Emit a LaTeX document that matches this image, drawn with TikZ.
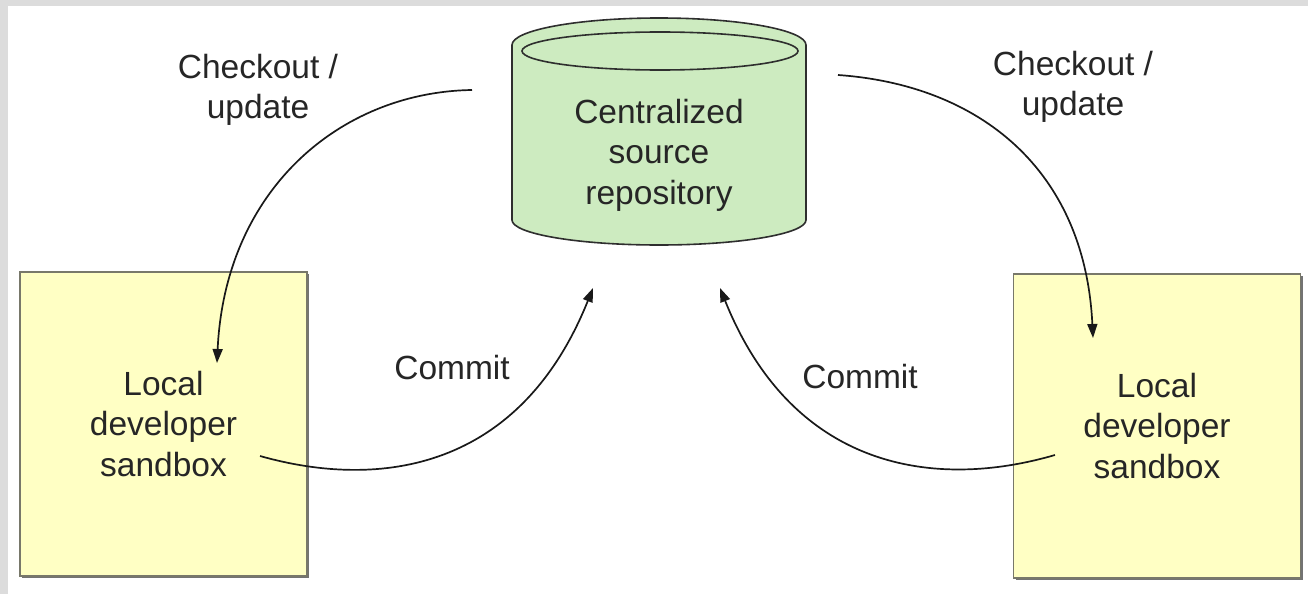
\documentclass[tikz,border=0pt]{standalone}
\usepackage{fontspec}
\setmainfont{Liberation Sans}
\usetikzlibrary{arrows.meta,shadows}
\definecolor{framegray}{HTML}{DCDCDC}
\definecolor{padfill}{HTML}{FFFFC4}
\definecolor{padedge}{HTML}{78786A}
\definecolor{repofill}{HTML}{CDEBC0}
\definecolor{repoedge}{HTML}{2E2E2E}
\begin{document}
\begin{tikzpicture}[x=1pt,y=-1pt,
  lbl/.style={font=\fontsize{33.5}{40.5}\selectfont, text=black!85, align=center, inner sep=0pt},
  pad/.style={lbl, draw=padedge, line width=1.6pt, fill=padfill,
    minimum width=287pt, minimum height=304pt,
    drop shadow={shadow xshift=2pt, shadow yshift=-2pt, fill=black!55, opacity=1}},
  flow/.style={line width=1.7pt, draw=black!90, -{Triangle[length=14pt,width=10pt]}}
]
\useasboundingbox (0,0) rectangle (1308,594);
% light frame along the top and left edges
\fill[framegray] (0,0) rectangle (1308,594);
\fill[white] (8,6) rectangle (1308,594);

% central repository drum
\filldraw[fill=repofill, draw=repoedge, line width=1.6pt]
  (512,45) -- (512,220)
  .. controls (512,233.8) and (577.8,245) .. (659,245)
  .. controls (740.2,245) and (806,233.8) .. (806,220)
  -- (806,45)
  .. controls (806,30.1) and (740.2,18) .. (659,18)
  .. controls (577.8,18) and (512,30.1) .. (512,45) -- cycle;
\draw[repoedge, line width=1.6pt] (660,51) ellipse [x radius=138, y radius=19];
\node[lbl] (repo) at (659,155) {Centralized\\source\\repository};

% developer sandboxes
\node[pad] (lpad) at (163.5,424) {Local\\developer\\sandbox};
\node[pad] (rpad) at (1157,426) {Local\\developer\\sandbox};

% labels
\node[lbl] (lco) at (258,90) {Checkout /\\update};
\node[lbl] (rco) at (1073,87) {Checkout /\\update};
\node[lbl] (lcm) at (452,368) {Commit};
\node[lbl] (rcm) at (860,377) {Commit};

% connector end points
\coordinate (lupS) at (472,90);
\coordinate (lupE) at (217,363);
\coordinate (rupS) at (838,75);
\coordinate (rupE) at (1093,338);
\coordinate (lciS) at (260,456);
\coordinate (lciE) at (593,288);
\coordinate (rciS) at (1055,455);
\coordinate (rciE) at (720,288);

% checkout / update
\draw[flow] (lupS) .. controls (340,92) and (225,190) .. (lupE);
\draw[flow] (rupS) .. controls (980,85) and (1085,170) .. (rupE);
% commit
\draw[flow] (lciS) .. controls (380,490) and (520,470) .. (lciE);
\draw[flow] (rciS) .. controls (935,490) and (793,470) .. (rciE);
\end{tikzpicture}
\end{document}
